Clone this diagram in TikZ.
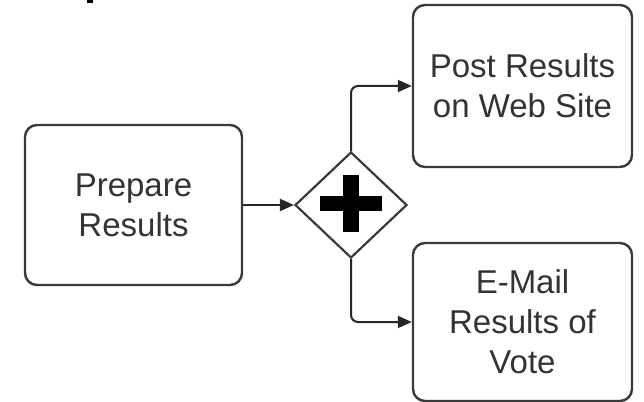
\documentclass[tikz,border=0pt]{standalone}
\usepackage{fontspec}
\setmainfont{Liberation Sans}
\usetikzlibrary{arrows.meta,shapes.geometric}
\definecolor{edgegray}{HTML}{3A3A3A}
\definecolor{textgray}{HTML}{333333}
\tikzset{
  task/.style={draw=edgegray, line width=2.4pt, rounded corners=12pt, fill=white,
    align=center, inner sep=0pt, text=textgray,
    font=\fontsize{33}{40}\selectfont},
  gateway/.style={diamond, draw=edgegray, line width=2.2pt, fill=white, inner sep=0pt,
    minimum width=112pt, minimum height=106pt},
  flow/.style={draw=black!85, line width=2pt, rounded corners=7pt,
    -{Triangle[length=14pt,width=12pt]}},
  plusbar/.style={fill=black}
}
\begin{document}
\begin{tikzpicture}[x=1pt,y=-1pt]
  \useasboundingbox[fill=white] (0,0) rectangle (644,401);
  % fragment of a glyph cut by the top edge
  \fill[black] (87,0) rectangle (93,3.5);

  % tasks
  \node[task, minimum width=217pt, minimum height=160pt] (prep) at (133.5,205)
    {Prepare\\Results};
  \node[task, minimum width=219pt, minimum height=162pt] (post) at (522.5,86)
    {Post Results\\on Web Site};
  \node[task, minimum width=219pt, minimum height=158pt] (mail) at (522.5,322)
    {E-Mail\\Results of\\Vote};

  % parallel gateway
  \node[gateway] (gw) at (351,205) {};
  \fill[plusbar] (320,196) rectangle (382,211);
  \fill[plusbar] (343,175) rectangle (359,232);

  % sequence flows
  \draw[flow] (prep.east) -- (gw.west);
  \draw[flow] (gw.north) |- (post.west);
  \draw[flow] (gw.south) |- (mail.west);
\end{tikzpicture}
\end{document}
